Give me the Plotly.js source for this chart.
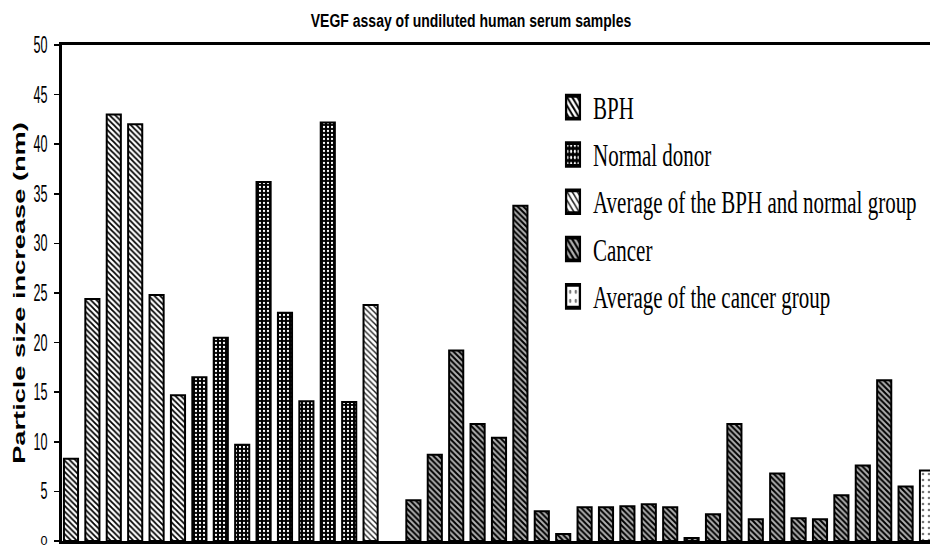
<!DOCTYPE html>
<html>
<head>
<meta charset="utf-8">
<script src="https://cdn.plot.ly/plotly-3.0.1.min.js"></script>
<style>html,body{margin:0;padding:0;background:#fff;}#chart{width:930px;height:548px;}</style>
</head>
<body>
<div id="chart"></div>
<script>
// Sample positions (slot numbers along the x axis) and measured values (nm)
var bphSlots = [0, 1, 2, 3, 4, 5];
var bphValues = [8.3, 24.4, 43.0, 42.0, 24.8, 14.7];

var normalSlots = [6, 7, 8, 9, 10, 11, 12, 13];
var normalValues = [16.5, 20.5, 9.7, 36.2, 23.0, 14.1, 42.2, 14.0];

var avgBphNormalSlots = [14];
var avgBphNormalValues = [23.8];

var cancerSlots = [16, 17, 18, 19, 20, 21, 22, 23, 24, 25, 26, 27, 28, 29, 30, 31, 32, 33, 34, 35, 36, 37, 38, 39];
var cancerValues = [4.1, 8.7, 19.2, 11.8, 10.4, 33.8, 3.0, 0.7, 3.4, 3.4, 3.5, 3.7, 3.4, 0.3, 2.7, 11.8, 2.2, 6.8, 2.3, 2.2, 4.6, 7.6, 16.2, 5.5];

var avgCancerSlots = [40];
var avgCancerValues = [7.1];

var seriesNames = ["BPH", "Normal donor", "Average of the BPH and normal group", "Cancer", "Average of the cancer group"];
var yTicks = [0, 5, 10, 15, 20, 25, 30, 35, 40, 45, 50];

var outline = {color: "#000", width: 2};
function barTrace(name, xs, ys, pattern, group) {
  return {
    type: "bar", name: name, x: xs, y: ys, width: 0.66,
    legendgroup: group,
    marker: {color: pattern.bgcolor, line: outline, pattern: pattern},
    hoverinfo: "x+y"
  };
}

var traces = [
  barTrace(seriesNames[0], bphSlots, bphValues, {shape: "\\", bgcolor: "#ffffff", fgcolor: "#000000", size: 4, solidity: 0.45, fillmode: "replace"}, "g1"),
  barTrace(seriesNames[1], normalSlots, normalValues, {shape: ".", bgcolor: "#000000", fgcolor: "#ffffff", size: 4, solidity: 0.25, fillmode: "replace"}, "g2"),
  barTrace(seriesNames[2], avgBphNormalSlots, avgBphNormalValues, {shape: "\\", bgcolor: "#ffffff", fgcolor: "#222222", size: 4, solidity: 0.35, fillmode: "replace"}, "g3"),
  barTrace(seriesNames[3], cancerSlots, cancerValues, {shape: "\\", bgcolor: "#b0b0b0", fgcolor: "#000000", size: 4, solidity: 0.5, fillmode: "replace"}, "g4"),
  barTrace(seriesNames[4], avgCancerSlots, avgCancerValues, {shape: ".", bgcolor: "#ffffff", fgcolor: "#777777", size: 6, solidity: 0.15, fillmode: "replace"}, "g5")
];

var layout = {
  width: 930, height: 548,
  margin: {l: 62, r: 0, t: 45, b: 7, pad: 0, autoexpand: false},
  paper_bgcolor: "#fff", plot_bgcolor: "#fff",
  barmode: "overlay",
  showlegend: true,
  title: {
    text: "<b>VEGF assay of undiluted human serum samples</b>",
    font: {family: "Liberation Sans, Arial, sans-serif", size: 14, color: "#000"},
    x: 471 / 930, xref: "container", xanchor: "center",
    y: 1 - 20 / 548, yref: "container", yanchor: "middle"
  },
  xaxis: {
    range: [-0.42, 40.14],
    showticklabels: false, ticks: "", showgrid: false, zeroline: false,
    showline: true, linecolor: "#000", linewidth: 3, mirror: true
  },
  yaxis: {
    range: [0, 50], tickvals: yTicks, ticktext: yTicks.map(String),
    ticks: "outside", ticklen: 5, tickwidth: 1.5, tickcolor: "#000",
    ticklabelstandoff: 4, ticklabeloverflow: "allow",
    showgrid: false, zeroline: false,
    showline: true, linecolor: "#000", linewidth: 3, mirror: false,
    tickfont: {family: "Liberation Sans, Arial, sans-serif", size: 12.6, color: "#000"},
    title: {
      text: "<b>Particle size increase (nm)</b>",
      font: {family: "Liberation Sans, Arial, sans-serif", size: 17, color: "#000"},
      standoff: 4
    }
  },
  legend: {
    x: (553 - 62) / 868, xanchor: "left",
    y: 1 - (87 - 45) / 496, yanchor: "top",
    bgcolor: "rgba(0,0,0,0)", borderwidth: 0,
    font: {family: "Liberation Serif, Times New Roman, serif", size: 21, color: "#000"},
    tracegroupgap: 17,
    itemwidth: 30
  }
};

// Vertical stretch of the rendered text, matching the tall lettering of the reference
function stretchEl(el, sx, sy, maxBottom) {
  var r = el.getBoundingClientRect();
  if (!r.width && !r.height) return;
  var cy = r.top + r.height / 2;
  if (maxBottom !== undefined) {
    // keep the stretched glyph inside the figure
    var lim = (maxBottom - cy) / (r.height / 2);
    if (lim < sy) sy = Math.max(1, lim);
  }
  var pm = el.parentNode.getScreenCTM();
  var p = new DOMPoint(r.left + r.width / 2, cy).matrixTransform(pm.inverse());
  var old = el.getAttribute("transform") || "";
  el.setAttribute("transform",
    "translate(" + p.x + "," + p.y + ") scale(" + sx + "," + sy + ") translate(" + (-p.x) + "," + (-p.y) + ") " + old);
}
function stretch(gd, sel, sx, sy, maxBottom) {
  gd.querySelectorAll(sel).forEach(function (el) { stretchEl(el, sx, sy, maxBottom); });
}

var gd = document.getElementById("chart");
Plotly.newPlot(gd, traces, layout, {displayModeBar: false, staticPlot: true}).then(function () {
  var sb = gd.querySelector(".legend .scrollbox");
  if (sb) sb.removeAttribute("clip-path");
  var lg = gd.querySelector(".legend");
  if (lg) lg.removeAttribute("clip-path");
  var top = gd.getBoundingClientRect().top;
  stretch(gd, ".g-gtitle text", 1, 1.35);
  stretch(gd, ".ytick text", 1, 1.9, top + 547);
  stretch(gd, ".g-ytitle text", 1, 1.6);
  stretch(gd, ".legend text.legendtext", 1, 1.5);
  stretch(gd, ".legend .legendpoints path", 1.15, 1.9);
});
</script>
</body>
</html>
